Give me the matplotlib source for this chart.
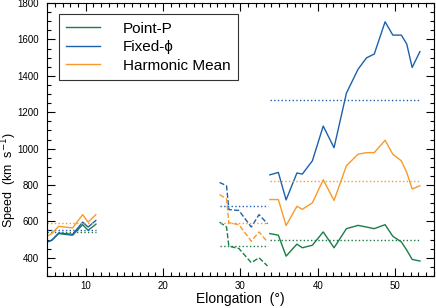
import matplotlib
matplotlib.use('Agg')
from matplotlib import pyplot as plt
from matplotlib.ticker import MultipleLocator

plt.rcParams['font.family'] = ['Liberation Sans', 'DejaVu Sans']

green = '#1b7d46'
blue = '#1d60ae'
orange = '#f8992c'

# left group (solid)
left_elong = [5.0, 5.6, 6.5, 7.3, 8.3, 9.6, 10.3, 11.3]
left_pp = [487, 496, 533, 529, 524, 582, 551, 584]
left_fp = [487, 496, 536, 533, 529, 596, 569, 605]
left_hm = [518, 533, 573, 569, 564, 637, 596, 637]
left_means = [542, 555, 590]

# middle group (dashed)
mid_elong = [27.3, 28.2, 28.5, 29.8, 31.4, 32.4, 33.5]
mid_pp = [596, 569, 464, 451, 373, 400, 355]
mid_fp = [814, 796, 665, 660, 569, 637, 587]
mid_hm = [747, 724, 593, 582, 491, 542, 487]
mid_means = [464, 682, 593]

# right group (solid)
right_elong = [33.8, 34.9, 35.9, 37.3, 38.0, 39.3, 40.7, 42.1, 43.7,
               45.2, 46.3, 47.3, 48.7, 49.7, 50.8, 51.5, 52.2, 53.2]
right_pp = [533, 524, 409, 475, 455, 469, 542, 455, 560,
            578, 569, 560, 582, 518, 487, 442, 391, 382]
right_fp = [856, 869, 718, 866, 860, 933, 1124, 1005, 1305,
            1436, 1499, 1520, 1697, 1624, 1624, 1575, 1446, 1533]
right_hm = [720, 720, 577, 683, 666, 702, 829, 715, 906,
            969, 978, 978, 1046, 969, 933, 869, 778, 796]
right_means = [495, 1269, 824]

labels = ['Point-P', 'Fixed-ϕ', 'Harmonic Mean']
colors = [green, blue, orange]

fig = plt.figure(figsize=(4.36, 3.08), dpi=100)
ax = fig.add_axes([0.108, 0.104, 0.887, 0.886])

groups = [
    (left_elong, [left_pp, left_fp, left_hm], left_means, '-'),
    (mid_elong, [mid_pp, mid_fp, mid_hm], mid_means, '--'),
    (right_elong, [right_pp, right_fp, right_hm], right_means, '-'),
]

for gi, (x, series, means, ls) in enumerate(groups):
    for s, m, c, lab in zip(series, means, colors, labels):
        ax.plot(x, s, color=c, lw=1.0, ls=ls, label=lab if gi == 0 else None)
        ax.hlines(m, x[0], x[-1], color=c, lw=1.0, linestyles=':')

ax.set_xlim(5, 55)
ax.set_ylim(300, 1800)
ax.xaxis.set_major_locator(MultipleLocator(10))
ax.xaxis.set_minor_locator(MultipleLocator(1))
ax.yaxis.set_major_locator(MultipleLocator(200))
ax.yaxis.set_minor_locator(MultipleLocator(50))
ax.tick_params(which='both', direction='in', top=True, right=True, labelsize=7, width=0.8)
ax.tick_params(which='major', length=6)
ax.tick_params(which='minor', length=3)
ax.tick_params(axis='y', pad=6)
for sp in ax.spines.values():
    sp.set_linewidth(0.8)

ax.set_xlabel('Elongation  (°)', fontsize=10, labelpad=1)
ax.set_ylabel('Speed  (km  s$^{-1}$)', fontsize=9)
ax.yaxis.set_label_coords(-0.072, 0.35)

leg = ax.legend(loc='upper left', bbox_to_anchor=(0.03, 0.96), fontsize=11,
                fancybox=False, framealpha=1, edgecolor='#333333',
                handlelength=2.2, handletextpad=1.5, labelspacing=0.3,
                borderpad=0.5, borderaxespad=0)
leg.get_frame().set_linewidth(0.8)

fig.savefig('out.png', dpi=100)
